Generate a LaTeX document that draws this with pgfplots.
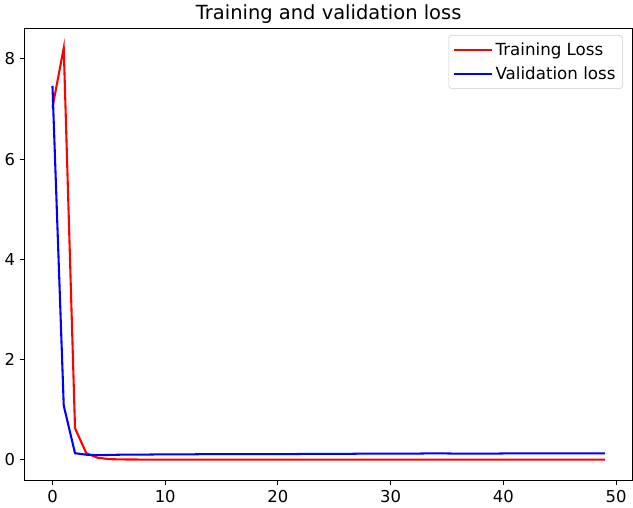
\documentclass[border=0pt]{standalone}
\usepackage{pgfplots}
\pgfplotsset{compat=1.18}
\usepackage{fontspec}
\setmainfont{DejaVu Sans}
\begin{document}
\begin{tikzpicture}
\begin{axis}[
  scale only axis,
  width=437pt, height=325pt,
  xmin=-2.45, xmax=51.45,
  ymin=-0.41, ymax=8.61,
  xtick={0,10,20,30,40,50},
  ytick={0,2,4,6,8},
  tick align=outside,
  tick pos=left,
  major tick length=3.5pt,
  axis line style={line width=0.8pt},
  every tick/.style={black, line width=0.8pt},
  tick label style={font=\fontsize{11.8}{13}\selectfont},
  /pgf/number format/assume math mode=true,
  title={Training and validation loss},
  title style={font=\fontsize{14}{16}\selectfont, yshift=-6pt},
  legend cell align=left,
  legend style={draw=black!20, rounded corners=2pt, font=\fontsize{12}{14}\selectfont, inner sep=3pt, at={(0.984,0.985)}, anchor=north east, row sep=3pt},
  legend image code/.code={\draw[#1, line width=1.5pt] (0cm,0cm) -- (0.95cm,0cm);},
]
\addplot[red, line width=1.5pt] coordinates {
(0,7.03) (1,8.22) (2,0.63) (3,0.13) (4,0.04) (5,0.012) (6,0.006) (7,0.004) (8,0.003) (9,0.003)
(10,0.002) (11,0.002) (12,0.002) (13,0.002) (14,0.002) (15,0.002) (16,0.002) (17,0.002) (18,0.002) (19,0.002)
(20,0.002) (21,0.002) (22,0.002) (23,0.002) (24,0.002) (25,0.002) (26,0.002) (27,0.002) (28,0.002) (29,0.002)
(30,0.002) (31,0.002) (32,0.002) (33,0.002) (34,0.002) (35,0.002) (36,0.002) (37,0.002) (38,0.002) (39,0.002)
(40,0.002) (41,0.002) (42,0.002) (43,0.002) (44,0.002) (45,0.002) (46,0.002) (47,0.002) (48,0.002) (49,0.002)
};
\addlegendentry{Training Loss}
\addplot[blue, line width=1.5pt] coordinates {
(0,7.46) (1,1.08) (2,0.13) (3,0.10) (4,0.09) (5,0.095) (6,0.10) (7,0.10) (8,0.10) (9,0.105)
(10,0.105) (11,0.105) (12,0.105) (13,0.11) (14,0.11) (15,0.11) (16,0.11) (17,0.11) (18,0.11) (19,0.11)
(20,0.11) (21,0.11) (22,0.115) (23,0.115) (24,0.115) (25,0.115) (26,0.115) (27,0.12) (28,0.12) (29,0.12)
(30,0.12) (31,0.12) (32,0.12) (33,0.125) (34,0.125) (35,0.125) (36,0.12) (37,0.12) (38,0.12) (39,0.12)
(40,0.125) (41,0.125) (42,0.125) (43,0.125) (44,0.125) (45,0.125) (46,0.125) (47,0.125) (48,0.125) (49,0.125)
};
\addlegendentry{Validation loss}
\end{axis}
\end{tikzpicture}
\end{document}
